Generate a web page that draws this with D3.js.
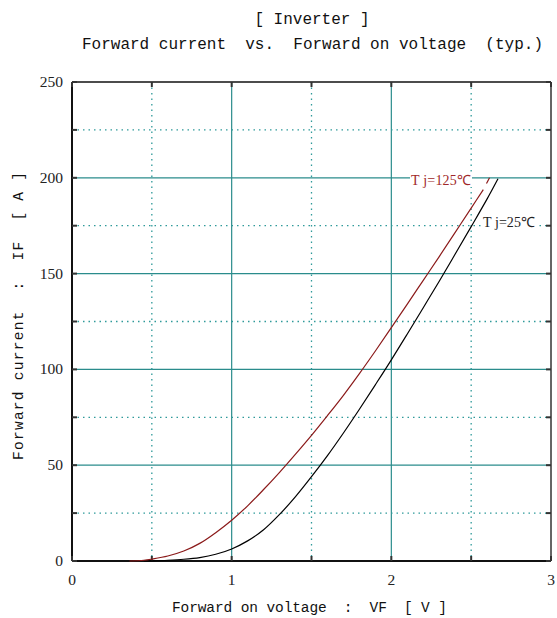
<!DOCTYPE html>
<html lang="en">
<head>
<meta charset="UTF-8">
<title>Forward current vs. Forward on voltage</title>
<script src="https://d3js.org/d3.v7.min.js"></script>
<style>
  body { margin: 0; background: #fff; }
  .mono { font-family: "Liberation Mono", monospace; }
  .serif { font-family: "Liberation Serif", serif; }
</style>
</head>
<body>
<div id="chart"></div>
<script>
// values
const vfHot = [0.36, 0.45, 0.5, 0.6, 0.7, 0.8, 0.9, 1.0, 1.1, 1.2, 1.3, 1.4, 1.5, 1.6, 1.7, 1.8, 1.9, 2.0, 2.1, 2.2, 2.3, 2.4, 2.5, 2.576];
const ifHot = [0, 0.4, 1.0, 2.6, 5.2, 9.2, 14.8, 21.3, 28.8, 37.3, 46.3, 55.8, 65.6, 75.9, 86.5, 97.8, 109.6, 121.8, 134.1, 146.5, 158.9, 171.5, 184.2, 193.8];
const vfHotTail = [2.596, 2.615];
const ifHotTail = [197, 200];
const vfCold = [0.45, 0.5, 0.6, 0.7, 0.8, 0.9, 1.0, 1.1, 1.2, 1.3, 1.4, 1.5, 1.6, 1.7, 1.8, 1.9, 2.0, 2.1, 2.2, 2.3, 2.4, 2.5, 2.6, 2.668];
const ifCold = [0, 0.1, 0.4, 0.9, 1.8, 3.5, 6.3, 10.5, 16.3, 24.3, 33.6, 44.0, 55.0, 66.8, 79.2, 92.0, 105.0, 118.5, 132.2, 146.0, 160.2, 174.5, 189.0, 199.5];
const xMajor = [1, 2];
const xMinor = [0.5, 1.5, 2.5];
const yMajor = [50, 100, 150, 200];
const yMinor = [25, 75, 125, 175, 225];
const xTickLabels = [0, 1, 2, 3];
const yTickLabels = [0, 50, 100, 150, 200, 250];

const W = 557, H = 618;
const x = d3.scaleLinear().domain([0, 3]).range([72, 551]);
const y = d3.scaleLinear().domain([0, 250]).range([561, 82]);

const svg = d3.select("#chart").append("svg")
  .attr("width", W).attr("height", H);

const teal = "#2a8c8c";

// grid
svg.append("g").selectAll("line").data(xMajor).join("line")
  .attr("x1", d => x(d)).attr("x2", d => x(d))
  .attr("y1", y(250)).attr("y2", y(0))
  .attr("stroke", teal).attr("stroke-width", 1.2);
svg.append("g").selectAll("line").data(yMajor).join("line")
  .attr("x1", x(0)).attr("x2", x(3))
  .attr("y1", d => y(d)).attr("y2", d => y(d))
  .attr("stroke", teal).attr("stroke-width", 1.2);
svg.append("g").selectAll("line").data(xMinor).join("line")
  .attr("x1", d => x(d)).attr("x2", d => x(d))
  .attr("y1", y(250)).attr("y2", y(0))
  .attr("stroke", "#2f9a9a").attr("stroke-width", 1.3).attr("stroke-dasharray", "1.5,4");
svg.append("g").selectAll("line").data(yMinor).join("line")
  .attr("x1", x(0)).attr("x2", x(3))
  .attr("y1", d => y(d)).attr("y2", d => y(d))
  .attr("stroke", "#2f9a9a").attr("stroke-width", 1.3).attr("stroke-dasharray", "1.5,4");

// frame
svg.append("line").attr("x1", x(0)).attr("x2", x(3)).attr("y1", y(250)).attr("y2", y(250))
  .attr("stroke", "#111").attr("stroke-width", 1.5);
svg.append("line").attr("x1", x(3)).attr("x2", x(3)).attr("y1", y(250)).attr("y2", y(0))
  .attr("stroke", "#666").attr("stroke-width", 2);
svg.append("line").attr("x1", x(0)).attr("x2", x(0)).attr("y1", y(250)).attr("y2", y(0))
  .attr("stroke", "#111").attr("stroke-width", 2);
svg.append("line").attr("x1", x(0)).attr("x2", x(3)).attr("y1", y(0)).attr("y2", y(0))
  .attr("stroke", "#111").attr("stroke-width", 2);

// inward ticks on all sides
const xt = d3.range(0, 3.01, 0.5), yt = d3.range(0, 251, 25);
const tk = svg.append("g").attr("stroke", "#333").attr("stroke-width", 2);
xt.forEach(v => {
  tk.append("line").attr("x1", x(v)).attr("x2", x(v)).attr("y1", y(0)).attr("y2", y(0) - 5);
  tk.append("line").attr("x1", x(v)).attr("x2", x(v)).attr("y1", y(250)).attr("y2", y(250) + 5);
});
yt.forEach(v => {
  tk.append("line").attr("x1", x(0)).attr("x2", x(0) + 5).attr("y1", y(v)).attr("y2", y(v));
  tk.append("line").attr("x1", x(3)).attr("x2", x(3) - 5).attr("y1", y(v)).attr("y2", y(v));
});

// curves (on top of the frame, like the original)
const line = d3.line().x(d => x(d[0])).y(d => y(d[1])).curve(d3.curveCatmullRom.alpha(0.5));
svg.append("path").datum(d3.zip(vfCold, ifCold))
  .attr("d", line).attr("fill", "none").attr("stroke", "#000").attr("stroke-width", 1.2);
svg.append("path").datum(d3.zip(vfHot, ifHot))
  .attr("d", line).attr("fill", "none").attr("stroke", "#8b1a1a").attr("stroke-width", 1.2);
svg.append("path").datum(d3.zip(vfHotTail, ifHotTail))
  .attr("d", line).attr("fill", "none").attr("stroke", "#8b1a1a").attr("stroke-width", 1.2);

// tick labels
svg.append("g").selectAll("text").data(yTickLabels).join("text")
  .attr("class", "serif").attr("x", 63).attr("y", d => y(d) + 5)
  .attr("text-anchor", "end").attr("font-size", 15.5).attr("fill", "#222").text(d => d);
svg.append("g").selectAll("text").data(xTickLabels).join("text")
  .attr("class", "serif").attr("x", d => x(d)).attr("y", 585)
  .attr("text-anchor", "middle").attr("font-size", 15.5).attr("fill", "#222").text(d => d);

// curve labels with white backing
function label(txt, x0, yc, w, col) {
  svg.append("rect").attr("x", x0 - 1).attr("y", yc - 8).attr("width", w + 2).attr("height", 15).attr("fill", "#fff");
  svg.append("text").attr("class", "serif").attr("x", x0).attr("y", yc + 5)
    .attr("font-size", 14).attr("fill", col).attr("textLength", w).text(txt);
}
label("T j=125\u2103", 411, 180, 60, "#a02828");
label("T j=25\u2103", 483, 222, 52, "#222");

// titles
svg.append("text").attr("class", "mono").attr("x", 312).attr("y", 24)
  .attr("text-anchor", "middle").attr("font-size", 16).attr("fill", "#111").text("[ Inverter ]");
svg.append("text").attr("class", "mono").attr("x", 82).attr("y", 49)
  .attr("font-size", 16).attr("fill", "#111").attr("textLength", 461)
  .style("white-space", "pre")
  .text("Forward current  vs.  Forward on voltage  (typ.)");
svg.append("text").attr("class", "mono").attr("x", 172).attr("y", 612)
  .attr("font-size", 14.5).attr("fill", "#111").attr("textLength", 275)
  .style("white-space", "pre")
  .text("Forward on voltage  :  VF  [ V ]");
svg.append("text").attr("class", "mono")
  .attr("transform", "translate(23,460) rotate(-90)")
  .attr("font-size", 14.5).attr("fill", "#111").attr("textLength", 288)
  .style("white-space", "pre")
  .text("Forward current  :  IF  [ A ]");
</script>
</body>
</html>
